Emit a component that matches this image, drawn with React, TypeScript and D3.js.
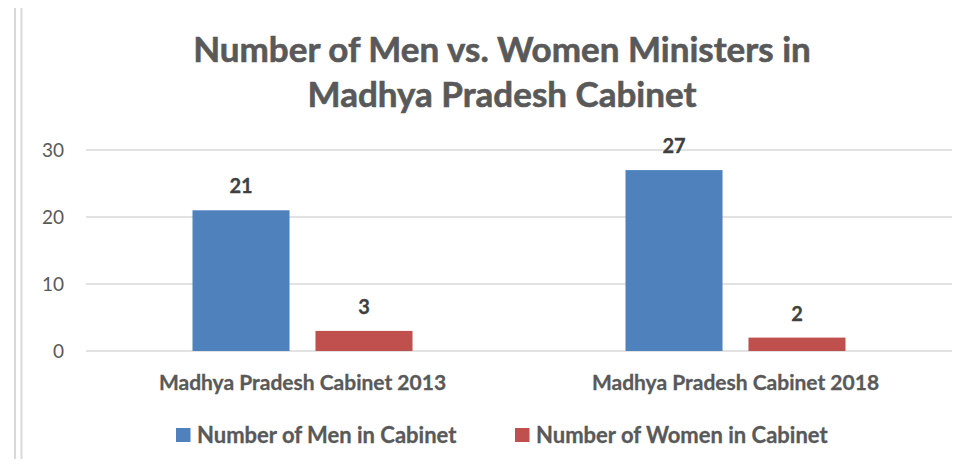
import React from "react";
import * as d3 from "d3";

const categories = ["Madhya Pradesh Cabinet 2013", "Madhya Pradesh Cabinet 2018"];
const seriesNames = ["Number of Men in Cabinet", "Number of Women in Cabinet"];
const menValues = [21, 27];
const womenValues = [3, 2];
const yTicks = [0, 10, 20, 30];
const titleLines = ["Number of Men vs. Women Ministers in", "Madhya Pradesh Cabinet"];
const colors = ["#4f81bd", "#c0504d"];

const W = 969;
const H = 467;
const FONT = "Lato, 'Open Sans', 'Liberation Sans', sans-serif";

export default function App() {
  const x0 = d3.scaleBand<string>().domain(categories).range([86, 952]).paddingInner(0).paddingOuter(0);
  const x1 = d3.scaleBand<string>().domain(seriesNames).range([0, x0.bandwidth()]).paddingInner(0.211).paddingOuter(0.866);
  const y = d3.scaleLinear().domain([0, 30]).range([351, 150]);
  const series = [menValues, womenValues];

  return (
    <div style={{ margin: -8, width: W, height: H }}>
      <svg width={W} height={H} style={{ display: "block", fontFamily: FONT }}>
        <rect width={W} height={H} fill="#fff" />
        <line x1={15} x2={15} y1={0} y2={H} stroke="#d9d9d9" strokeWidth={2} />
        <line x1={21.5} x2={21.5} y1={5} y2={H} stroke="#d9d9d9" strokeWidth={2} />
        <line x1={21} x2={968} y1={5.5} y2={5.5} stroke="#d9d9d9" strokeWidth={2} />
        {titleLines.map((t, i) => (
          <text key={t} x={502} y={62 + i * 45} textAnchor="middle" fontSize={35} fontWeight="bold" fill="#595959" stroke="#595959" strokeWidth={0.6}>
            {t}
          </text>
        ))}
        {yTicks.map((t) => (
          <g key={t}>
            <line x1={86} x2={952} y1={y(t)} y2={y(t)} stroke="#d9d9d9" strokeWidth={1.5} />
            <text x={64} y={y(t) + 6.5} textAnchor="end" fontSize={19} fill="#595959">
              {t}
            </text>
          </g>
        ))}
        {categories.map((c, ci) => (
          <g key={c} transform={`translate(${x0(c)},0)`}>
            {seriesNames.map((s, si) => {
              const v = series[si][ci];
              const bx = x1(s)!;
              return (
                <g key={s}>
                  <rect x={bx} y={y(v)} width={x1.bandwidth()} height={y(0) - y(v)} fill={colors[si]} />
                  <text x={bx + x1.bandwidth() / 2} y={y(v) - 17} textAnchor="middle" fontSize={20} fontWeight="bold" fill="#404040" stroke="#404040" strokeWidth={0.3}>
                    {v}
                  </text>
                </g>
              );
            })}
            <text x={x0.bandwidth() / 2} y={390} textAnchor="middle" fontSize={21} fontWeight="bold" fill="#595959" stroke="#595959" strokeWidth={0.3}>
              {c}
            </text>
          </g>
        ))}
        {seriesNames.map((s, i) => {
          const lx = [176, 515][i];
          return (
            <g key={s}>
              <rect x={lx} y={428} width={14.5} height={14} fill={colors[i]} />
              <text x={lx + 21} y={443} fontSize={22} fontWeight="bold" fill="#595959" stroke="#595959" strokeWidth={0.3}>
                {s}
              </text>
            </g>
          );
        })}
      </svg>
    </div>
  );
}
